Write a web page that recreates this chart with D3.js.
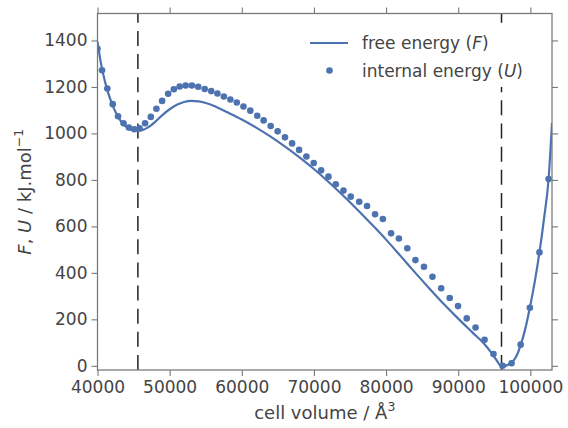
<!DOCTYPE html>
<html>
<head>
<meta charset="utf-8">
<script src="https://cdn.jsdelivr.net/npm/d3@7"></script>
<style>
  html, body { margin: 0; padding: 0; background: #fff; }
  svg text { font-family: "DejaVu Sans", sans-serif; }
</style>
</head>
<body>
<svg id="chart" width="568" height="428"></svg>
<script>
// Internal energy U sampled along the cell volume (Å^3, kJ/mol)
const volumeU = [
  40000, 40625, 41361, 42111, 42847, 43611, 44347, 45097, 45833, 46597,
  47389, 48167, 48958, 49792, 50583, 51389, 52222, 53083, 53958, 54861,
  55764, 56625, 57514, 58417, 59306, 60236, 61181, 62139, 63028, 64000,
  64972, 65986, 66972, 67944, 68958, 69972, 71000, 72014, 73028, 74097,
  75097, 76278, 77361, 78472, 79556, 80694, 81778, 82944, 84069, 85250,
  86431, 87639, 88819, 89972, 91181, 92403, 93653, 94889, 96153, 97389,
  98653, 99931, 101264, 102528
];
const internalEnergy = [
  1364, 1272, 1193, 1126, 1074, 1044, 1025, 1018, 1022, 1044,
  1071, 1106, 1140, 1171, 1190, 1202, 1206, 1206, 1201, 1191,
  1182, 1172, 1159, 1146, 1133, 1116, 1098, 1076, 1056, 1032,
  1009, 983, 957, 929, 901, 873, 841, 814, 781, 754,
  728, 706, 688, 652, 632, 570, 548, 506, 455, 426,
  383, 334, 292, 257, 204, 165, 112, 51, 0, 11,
  91, 250, 488, 804
];

// Free energy F along the same volume range
const volumeF = [
  40000, 40500, 41000, 41500, 42000, 42500, 43000, 43500, 44000, 44500,
  45000, 45600, 46200, 47000, 48000, 49000, 50000, 51000, 52000, 53000,
  54000, 55000, 56000, 57000, 58000, 60000, 62000, 64000, 66000, 68000,
  70000, 72000, 74000, 76000, 78000, 80000, 82000, 84000, 86000, 88000,
  90000, 92000, 93500, 94500, 95300, 96000, 96800, 97400, 98000, 98650,
  99300, 99930, 100600, 101260, 101900, 102530, 103000
];
const freeEnergy = [
  1395, 1298, 1228, 1172, 1128, 1092, 1064, 1043, 1028, 1018,
  1013, 1011, 1014, 1026, 1050, 1079, 1104, 1123, 1135, 1140,
  1138, 1131, 1120, 1106, 1091, 1060, 1025, 986, 943, 897,
  847, 792, 734, 673, 609, 543, 473, 402, 333, 266,
  203, 143, 98, 60, 25, -3, 3, 14, 38, 88,
  160, 250, 360, 488, 635, 805, 1045
];

// Volumes of the two free-energy minima
const minimaVolumes = [45600, 96000];

const xTicks = [40000, 50000, 60000, 70000, 80000, 90000, 100000];
const yTicks = [0, 200, 400, 600, 800, 1000, 1200, 1400];

const legendItems = [
  { kind: "line", label: "free energy (", sym: "F" },
  { kind: "dot", label: "internal energy (", sym: "U" }
];

const plot = { left: 97.5, top: 13.5, right: 552, bottom: 370 };
const blue = "#4c72b0";
const textColor = "#444";
const spineColor = "#777";

const svg = d3.select("#chart");

const x = d3.scaleLinear().domain([40000, 103000]).range([plot.left, plot.right]);
const y = d3.scaleLinear().domain([-18, 1516]).range([plot.bottom, plot.top]);

svg.append("defs").append("clipPath").attr("id", "plot-clip")
  .append("rect")
  .attr("x", plot.left).attr("y", plot.top)
  .attr("width", plot.right - plot.left).attr("height", plot.bottom - plot.top);

const content = svg.append("g").attr("clip-path", "url(#plot-clip)");

// dashed markers at the minima, drawn bottom-up
content.selectAll("line.minimum").data(minimaVolumes).join("line")
  .attr("class", "minimum")
  .attr("x1", d => x(d)).attr("x2", d => x(d))
  .attr("y1", plot.bottom).attr("y2", plot.top)
  .attr("stroke", "#222").attr("stroke-width", 1.5)
  .attr("stroke-dasharray", "15,8.15");

// free energy curve
const lineGen = d3.line()
  .x((d, i) => x(volumeF[i]))
  .y(d => y(d))
  .curve(d3.curveMonotoneX);
content.append("path")
  .datum(freeEnergy)
  .attr("d", lineGen)
  .attr("fill", "none")
  .attr("stroke", blue)
  .attr("stroke-width", 2.2);

// internal energy points
content.selectAll("circle.u").data(internalEnergy).join("circle")
  .attr("class", "u")
  .attr("cx", (d, i) => x(volumeU[i]))
  .attr("cy", d => y(d))
  .attr("r", 3.3)
  .attr("fill", blue);

// axes
function styleAxis(g) {
  g.select(".domain").remove();
  g.selectAll(".tick line").attr("stroke", spineColor).attr("stroke-width", 1.1);
  g.selectAll(".tick text")
    .attr("fill", textColor)
    .style("font-size", "17px");
}

svg.append("g")
  .attr("transform", `translate(0,${plot.bottom})`)
  .call(d3.axisBottom(x).tickValues(xTicks).tickFormat(d3.format("d")).tickSize(6).tickPadding(5))
  .call(styleAxis);

svg.append("g")
  .attr("transform", `translate(${plot.left},0)`)
  .call(d3.axisLeft(y).tickValues(yTicks).tickFormat(d3.format("d")).tickSize(6).tickPadding(4))
  .call(styleAxis);

svg.append("g")
  .attr("transform", `translate(0,${plot.top})`)
  .call(d3.axisTop(x).tickValues(xTicks).tickFormat("").tickSize(6))
  .call(styleAxis);

svg.append("g")
  .attr("transform", `translate(${plot.right},0)`)
  .call(d3.axisRight(y).tickValues(yTicks).tickFormat("").tickSize(6))
  .call(styleAxis);

// spines
svg.append("rect")
  .attr("x", plot.left).attr("y", plot.top)
  .attr("width", plot.right - plot.left).attr("height", plot.bottom - plot.top)
  .attr("fill", "none").attr("stroke", spineColor).attr("stroke-width", 1.25);

// axis titles
const xTitle = svg.append("text")
  .attr("x", (plot.left + plot.right) / 2).attr("y", 419)
  .attr("text-anchor", "middle")
  .attr("fill", textColor)
  .style("font-size", "18px");
xTitle.append("tspan").text("cell volume / Å");
xTitle.append("tspan").attr("dy", -8).style("font-size", "12.5px").text("3");

const yTitle = svg.append("text")
  .attr("transform", `translate(31,${(plot.top + plot.bottom) / 2}) rotate(-90)`)
  .attr("text-anchor", "middle")
  .attr("fill", textColor)
  .style("font-size", "18px");
yTitle.append("tspan").style("font-style", "italic").text("F");
yTitle.append("tspan").text(", ");
yTitle.append("tspan").style("font-style", "italic").text("U");
yTitle.append("tspan").text(" / kJ.mol");
yTitle.append("tspan").attr("dy", -8).style("font-size", "12.5px").text("−1");

// legend
const legend = svg.append("g");
legend.append("rect")
  .attr("x", 302).attr("y", 24).attr("width", 244).attr("height", 63)
  .attr("fill", "#fff");
const rows = legend.selectAll("g.row").data(legendItems).join("g")
  .attr("class", "row")
  .attr("transform", (d, i) => `translate(0,${43 + i * 27.5})`);
rows.filter(d => d.kind === "line").append("line")
  .attr("x1", 310).attr("x2", 348).attr("y1", 0).attr("y2", 0)
  .attr("stroke", blue).attr("stroke-width", 2.2);
rows.filter(d => d.kind === "dot").append("circle")
  .attr("cx", 329.5).attr("cy", 0).attr("r", 3.3).attr("fill", blue);
const labels = rows.append("text")
  .attr("x", 362).attr("y", 6)
  .attr("fill", textColor)
  .style("font-size", "17px");
labels.append("tspan").text(d => d.label);
labels.append("tspan").style("font-style", "italic").text(d => d.sym);
labels.append("tspan").text(")");
</script>
</body>
</html>
